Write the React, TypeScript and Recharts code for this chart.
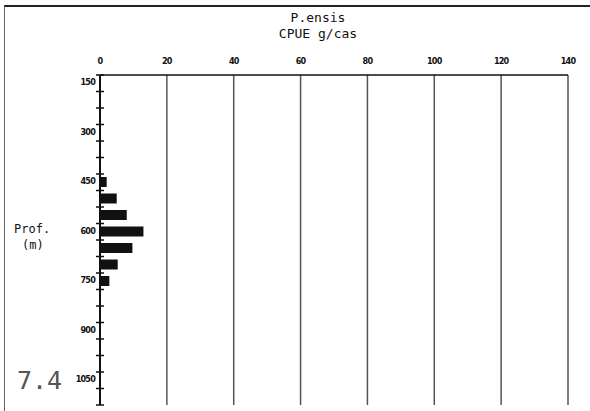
import { Bar, BarChart, CartesianGrid, XAxis, YAxis } from "recharts";

// depth bin centres (m) and CPUE (g/cast)
const depths = [475, 525, 575, 625, 675, 725, 775];
const cpue = [2.0, 5.0, 8.0, 13.0, 9.7, 5.3, 2.8];

const xTicks = [0, 20, 40, 60, 80, 100, 120, 140];
const depthTicks = [150, 200, 250, 300, 350, 400, 450, 500, 550, 600, 650, 700, 750, 800, 850, 900, 950, 1000, 1050, 1100, 1150];
const depthLabels = [150, 300, 450, 600, 750, 900, 1050];

const data = depths.map((d, i) => ({ depth: d, cpue: cpue[i] }));

const MONO = "'DejaVu Sans Mono', monospace";
const TICK_FONT = "'DejaVu Sans Condensed', 'DejaVu Sans', sans-serif";

function DepthTick(props: any) {
  const { x, y, payload } = props;
  const v = payload.value;
  return (
    <g>
      <line x1={x - 4} x2={x + 4} y1={y} y2={y} stroke="#111" strokeWidth={1.5} />
      {depthLabels.includes(v) && (
        <text x={x - 5} y={y + 10} textAnchor="end" fontSize={9} fontFamily={TICK_FONT} fontWeight="bold" letterSpacing={-0.8} fill="#111">
          {v}
        </text>
      )}
    </g>
  );
}

export default function App() {
  return (
    <div style={{ position: "absolute", left: 0, top: 0, width: 590, height: 411, background: "#fff", overflow: "hidden" }}>
      {/* scanned frame */}
      <div style={{ position: "absolute", left: 4, top: 5, right: -4, bottom: -4, borderTop: "2px solid #222", borderLeft: "1.5px solid #666" }} />

      <div style={{ position: "absolute", left: 218, width: 200, top: 10, textAlign: "center", fontFamily: MONO, fontSize: 13, lineHeight: "16px", color: "#111" }}>
        <div>P.ensis</div>
        <div>CPUE g/cas</div>
      </div>

      <div style={{ position: "absolute", left: 14, top: 221, fontFamily: MONO, fontSize: 12, lineHeight: "16px", color: "#111" }}>
        <div>Prof.</div>
        <div style={{ paddingLeft: 8 }}>(m)</div>
      </div>

      <div style={{ position: "absolute", left: 17, top: 366, fontFamily: MONO, fontSize: 25, color: "#555" }}>7.4</div>

      <BarChart
        width={590}
        height={411}
        data={data}
        layout="vertical"
        margin={{ top: 45, right: 22, bottom: 6, left: 0 }}
        style={{ position: "absolute", left: 0, top: 0 }}
      >
        <CartesianGrid horizontal={false} stroke="#555" strokeWidth={1.5} />
        <XAxis
          type="number"
          orientation="top"
          domain={[0, 140]}
          ticks={xTicks}
          height={30}
          tickLine={false}
          tickSize={0}
          tickMargin={11}
          axisLine={{ stroke: "#111", strokeWidth: 1.5 }}
          tick={{ fontSize: 9, fontFamily: TICK_FONT, fontWeight: "bold", fill: "#111", letterSpacing: -0.8 }}
        />
        <YAxis
          type="number"
          dataKey="depth"
          domain={[150, 1150]}
          ticks={depthTicks}
          interval={0}
          width={100}
          tickLine={false}
          tickSize={0}
          tickMargin={0}
          axisLine={{ stroke: "#111", strokeWidth: 2 }}
          tick={<DepthTick />}
        />
        <Bar dataKey="cpue" fill="#111" barSize={10} isAnimationActive={false} />
      </BarChart>
    </div>
  );
}
